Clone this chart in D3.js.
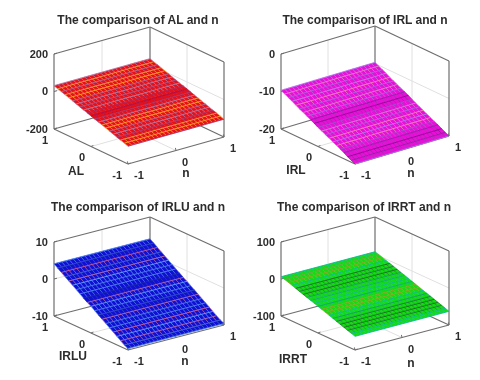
<!DOCTYPE html>
<html><head><meta charset="utf-8">
<script src="https://cdn.jsdelivr.net/npm/d3@7"></script>
<style>html,body{margin:0;background:#fff}svg{display:block;filter:blur(0.55px)}text{font-family:"Liberation Sans",Arial,sans-serif;font-weight:bold}</style>
</head><body><svg id="c" width="480" height="380"></svg>
<script>
// ---- data ----
const nValues = [-1,-0.92,-0.84,-0.76,-0.68,-0.6,-0.52,-0.44,-0.36,-0.28,-0.2,-0.12,-0.04,0.04,0.12,0.2,0.28,0.36,0.44,0.52,0.6,0.68,0.76,0.84,0.92,1];
const varValues = [1,0.9,0.8,0.7,0.6,0.5,0.4,0.3,0.2,0.1,0,-0.1,-0.2,-0.3,-0.4,-0.5,-0.6,-0.7,-0.8,-0.9,-1];
const sideTicks = [-1,0,1];
const names = ["AL","IRL","IRLU","IRRT"];
const zTicksAL = [-200,0,200];
const zTicksIRL = [-20,-10,0];
const zTicksIRLU = [-10,0,10];
const zTicksIRRT = [-100,0,100];
const zAL = [31,24,18,11,4,-3,-10,-17,-24,-30,-37,-44,-51,-57,-64,-71,-78,-85,-91,-98,-105];
const zIRL = [-9.7,-10.2,-10.7,-11.2,-11.8,-12.3,-12.8,-13.3,-13.8,-14.3,-14.9,-15.4,-15.9,-16.4,-16.9,-17.4,-17.9,-18.4,-19,-19.5,-20];
const zIRLU = [4.1,3.4,2.7,2,1.3,0.6,-0.1,-0.8,-1.5,-2.2,-2.8,-3.5,-4.2,-4.9,-5.6,-6.3,-7,-7.7,-8.4,-9.1,-9.6];
const zIRRT = [6,3.4,0,-3.5,-7,-10.5,-14,-17.5,-21,-24.5,-28,-31.5,-35,-38.5,-42,-45.5,-49,-52.5,-56,-59.5,-63];
const toneAL = [0.5,0.9,0.4,0.9,1,0.4,0.5,0.3,0.5,0.1,0,0.2,0.5,0.9,1,0.4,0.5,0.2,0.9,1,0.2];
const toneIRL = [0.5,0.8,0.4,0.6,0.9,0.4,0.8,0.4,0.1,0,0.3,0.7,0.4,0.9,0.5,0.9,0.3,0.1,0,0.1,0.5];
const toneIRLU = [0.4,0.2,1,0.3,0.9,0.5,0.4,0.4,0.1,0.9,0.5,0.4,0.2,0.9,0.4,0.4,1,0.5,0.9,0.3,0.4];
const toneIRRT = [0.5,0.8,0.9,0.5,0,0.1,0,0.3,0.4,0.5,0.4,0.9,0.9,0.5,0.3,0.1,0,0,0.1,0.5,0.5];

// ---- layout ----
const panels = [
 {name:names[0],zTicks:zTicksAL,z:zAL,tone:toneAL,face:"#e81018",edge:["#a00848","#a880b0","#ffa820"],
  left:[54,129],front:[128,164],right:[224,137],h:75,title:[138,24],label:[76,175],nLabel:[186,177]},
 {name:names[1],zTicks:zTicksIRL,z:zIRL,tone:toneIRL,face:"#e810d8",edge:["#880090","#a878f0","#ff88a0"],
  left:[281,129],front:[355,164],right:[449,136],h:75,title:[365,24],label:[296,174],nLabel:[411,177]},
 {name:names[2],zTicks:zTicksIRLU,z:zIRLU,tone:toneIRLU,face:"#1010d4",edge:["#00008c","#5ca8ff","#d85c88"],
  left:[54,316],front:[128,350],right:[224,325],h:74,title:[138,211],label:[73,360],nLabel:[185,365]},
 {name:names[3],zTicks:zTicksIRRT,z:zIRRT,tone:toneIRRT,face:"#10de10",edge:["#1c5c28","#10b4a0","#c49010"],
  left:[281,316],front:[355,350],right:[449,325],h:74,title:[364,211],label:[293,363],nLabel:[411,367]}
];
const svg = d3.select("#c");
const ink = "#2c2c2c", axisCol = "#6e6e6e", gridCol = "#e0e0e0";

panels.forEach(p=>{
  const g = svg.append("g");
  const [lx,ly]=p.left,[fx,fy]=p.front,[rx,ry]=p.right;
  const nX=d3.scaleLinear([-1,1],[0,rx-fx]), nY=d3.scaleLinear([-1,1],[0,ry-fy]);
  const vX=d3.scaleLinear([-1,1],[0,lx-fx]), vY=d3.scaleLinear([-1,1],[0,ly-fy]);
  const zS=d3.scaleLinear([p.zTicks[0],p.zTicks[2]],[0,-p.h]);
  const P=(n,v,z)=>[fx+nX(n)+vX(v),fy+nY(n)+vY(v)+zS(z)];
  const z0=p.zTicks[0],z1=p.zTicks[2],zm=p.zTicks[1];
  const line=(a,b,col,w)=>g.append("line").attr("x1",a[0]).attr("y1",a[1]).attr("x2",b[0]).attr("y2",b[1]).attr("stroke",col).attr("stroke-width",w);
  sideTicks.slice(1,2).forEach(t=>{
    line(P(t,1,z0),P(t,1,z1),gridCol,1); line(P(1,t,z0),P(1,t,z1),gridCol,1);
    line(P(t,-1,z0),P(t,1,z0),gridCol,1); line(P(-1,t,z0),P(1,t,z0),gridCol,1);
  });
  line(P(-1,1,zm),P(1,1,zm),gridCol,1); line(P(1,1,zm),P(1,-1,zm),gridCol,1);
  [[[-1,1,z0],[-1,1,z1]],[[-1,1,z1],[1,1,z1]],[[1,1,z1],[1,-1,z1]],[[1,-1,z1],[1,-1,z0]],
   [[1,1,z0],[1,1,z1]],[[-1,1,z0],[1,1,z0]],[[1,1,z0],[1,-1,z0]],[[-1,1,z0],[-1,-1,z0]],[[-1,-1,z0],[1,-1,z0]]]
   .forEach(s=>line(P(...s[0]),P(...s[1]),axisCol,1.2));
  p.zTicks.forEach(t=>line(P(-1,1,t),[P(-1,1,t)[0]+3,P(-1,1,t)[1]-0.8],axisCol,1));
  sideTicks.forEach(t=>{
    const a=P(t,-1,z0); line(a,[a[0]-0.6,a[1]-2.6],axisCol,1);
    const b=P(-1,t,z0); line(b,[b[0]+2.4,b[1]-1],axisCol,1);
  });
  const edge=d3.scaleLinear([0,0.5,1],p.edge);
  const cells=[];
  varValues.slice(0,-1).forEach((v,i)=>nValues.slice(0,-1).forEach((n,j)=>{
    const v2=varValues[i+1],n2=nValues[j+1];
    cells.push({i,pts:[P(n,v,p.z[i]),P(n2,v,p.z[i]),P(n2,v2,p.z[i+1]),P(n,v2,p.z[i+1])]});
  }));
  g.append("g").selectAll("polygon").data(cells).join("polygon")
    .attr("points",d=>d.pts.join(" ")).attr("fill",p.face).attr("stroke",p.face).attr("stroke-width",0.2);
  const gen=d3.line();
  const segs=[];
  varValues.slice(0,-1).forEach((v,i)=>nValues.forEach(n=>segs.push({i,a:P(n,v,p.z[i]),b:P(n,varValues[i+1],p.z[i+1])})));
  g.append("g").selectAll("path.c").data(segs).join("path")
    .attr("d",d=>gen([d.a,d.b])).attr("fill","none").attr("stroke",d=>edge(p.tone[d.i])).attr("stroke-opacity",0.8).attr("stroke-width",0.7);
  g.append("g").selectAll("path.r").data(varValues).join("path")
    .attr("d",(v,i)=>gen(nValues.map(n=>P(n,v,p.z[i])))).attr("fill","none")
    .attr("stroke",(v,i)=>edge(p.tone[i])).attr("stroke-width",0.85);
  const txt=(x,y,s,anc,size)=>g.append("text").attr("x",x).attr("y",y).attr("text-anchor",anc).attr("font-size",size).attr("fill",ink).text(s);
  p.zTicks.forEach(t=>{const a=P(-1,1,t);txt(a[0]-6,a[1]+3.5,t,"end",11);});
  sideTicks.forEach(t=>{
    const a=P(-1,t,z0);txt(a[0]-6,a[1]+14.5,t,"end",11);
    const b=P(t,-1,z0);txt(b[0]+6,b[1]+15,t,"start",11);
  });
  txt(p.label[0],p.label[1],p.name,"middle",12);
  txt(p.nLabel[0],p.nLabel[1],"n","middle",12);
  txt(p.title[0],p.title[1],"The comparison of "+p.name+" and n","middle",12);
});
</script></body></html>
